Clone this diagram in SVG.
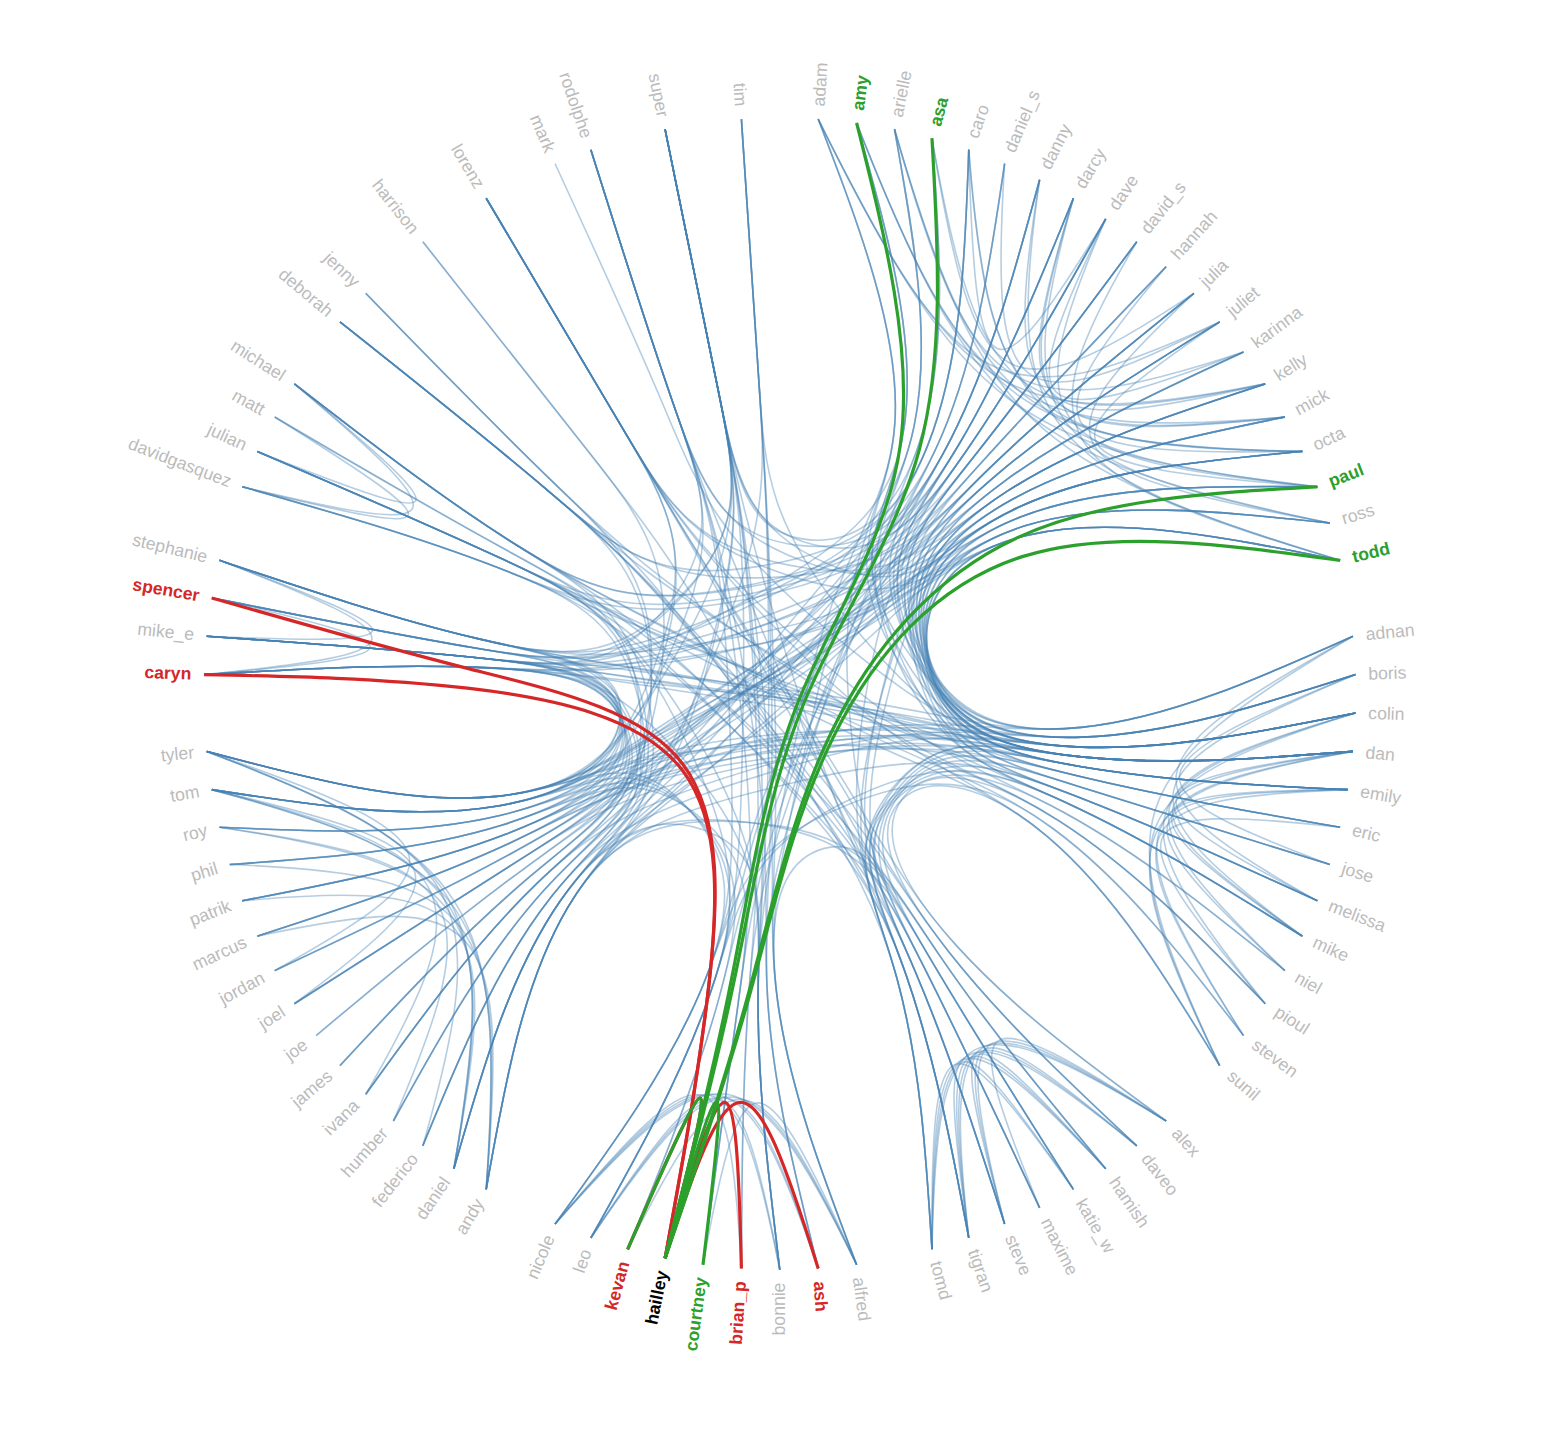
<svg xmlns="http://www.w3.org/2000/svg" width="1566" height="1450" viewBox="0 0 1566 1450">
<style>
.link{fill:none;stroke:#4682b4;stroke-opacity:.4;stroke-width:1}
.src-link{fill:none;stroke:#d62728;stroke-width:2}
.tgt-link{fill:none;stroke:#2ca02c;stroke-width:2}
.node{font-family:"Liberation Sans",Arial,Helvetica,sans-serif;font-size:11px;fill:#bbb}
.e{text-anchor:end}
.src{fill:#2ca02c;font-weight:700}
.tgt{fill:#d62728;font-weight:700}
.hov{fill:#000;font-weight:700}
</style>
<rect width="1566" height="1450" fill="#fff"/>
<g transform="translate(779.8,693.8) scale(1.6)">
<g id="links">
<path class="link" d="M24,-359.2C114.5,-176.4 149.1,-150.8 336,-129.4"/>
<path class="link" d="M24,-359.2C112.3,-180.7 143.3,-162.2 303.4,-193.7"/>
<path class="link" d="M48,-356.8C118.1,-177.4 149.1,-154.6 326.6,-151.5"/>
<path class="link" d="M48,-356.8C119.2,-174.4 152.1,-146.7 343.8,-106.7"/>
<path class="link" d="M48,-356.8C117.3,-178.8 147.1,-158.5 315.7,-173"/>
<path class="link" d="M71.7,-352.8C123.8,-172.2 154.9,-142.2 350.2,-83.4"/>
<path class="link" d="M71.7,-352.8C119.8,-180.8 144.1,-165.4 289.8,-213.6"/>
<path class="link" d="M95.1,-347.2C124.9,-178.5 148,-161.4 303.4,-193.7"/>
<path class="link" d="M95.1,-347.2C122,-182.3 140.1,-171.5 258.8,-250.3"/>
<path class="link" d="M118.1,-340.1C130.6,-174.5 153.8,-153.5 326.6,-151.5"/>
<path class="link" d="M118.1,-340.1C131.2,-173 155.4,-149.6 336,-129.4"/>
<path class="link" d="M162.4,-321.3C140,-166.6 160.9,-140.1 350.2,-83.4"/>
<path class="link" d="M183.5,-309.7C143.3,-166.1 161.1,-143.5 343.8,-106.7"/>
<path class="link" d="M183.5,-309.7C141.4,-170.5 156.1,-155.3 315.7,-173"/>
<path class="link" d="M203.7,-296.8C146.4,-165.3 161.1,-146.7 336,-129.4"/>
<path class="link" d="M203.7,-296.8C143.3,-170.9 152.9,-161.7 289.8,-213.6"/>
<path class="link" d="M223.1,-282.5C150.8,-159.7 165,-137.5 350.2,-83.4"/>
<path class="link" d="M241.5,-267C152.5,-161.5 162,-148.6 326.6,-151.5"/>
<path class="link" d="M258.8,-250.3C156.7,-155.5 166.2,-139.6 343.8,-106.7"/>
<path class="link" d="M274.9,-232.4C159.1,-153.8 165.8,-142.4 336,-129.4"/>
<path class="link" d="M24,-359.2C110.4,-183.3 138.3,-169.1 274.9,-232.4"/>
<path class="link" d="M71.7,-352.8C122.3,-176.7 150.7,-154.3 326.6,-151.5"/>
<path class="link" d="M183.5,-309.7C140.6,-171.9 153.9,-158.9 303.4,-193.7"/>
<path class="link" d="M162.4,-321.3C137.7,-172.5 154.7,-156.1 315.7,-173"/>
<path class="link" d="M118.1,-340.1C122.4,-184.2 131.9,-179.4 203.7,-296.8"/>
<path class="link" d="M140.5,-331.4C131.1,-178.3 146.1,-167.3 274.9,-232.4"/>
<path class="link" d="M358.2,-36C211.9,49.4 202.7,79.2 274.9,232.4"/>
<path class="link" d="M359.8,-12C215.7,48.3 212,66.4 326.6,151.5"/>
<path class="link" d="M359.8,12C214.9,53.9 210,71.9 315.7,173"/>
<path class="link" d="M359.8,12C214.1,55.3 207.8,75.5 303.4,193.7"/>
<path class="link" d="M358.2,36C212.9,60.9 205.3,80.7 289.8,213.6"/>
<path class="link" d="M358.2,36C211.9,62.2 202.7,84 274.9,232.4"/>
<path class="link" d="M358.2,36C216,55.3 213.5,65.7 336,129.4"/>
<path class="link" d="M355,59.9C214.8,61 211.7,71.2 326.6,151.5"/>
<path class="link" d="M355,59.9C214,62.4 209.7,75.1 315.7,173"/>
<path class="link" d="M359.8,-12C216.8,45.3 215,58.5 343.8,106.7"/>
<path class="link" d="M358.2,-36C216,42.5 213.5,60.9 336,129.4"/>
<path class="link" d="M359.8,12C212.2,57.9 202.8,82.4 274.9,232.4"/>
<path class="link" d="M350.2,83.4C212.4,68 207.1,80.3 303.4,193.7"/>
<path class="link" d="M358.2,36C215.4,56.8 211.9,69.6 326.6,151.5"/>
<path class="link" d="M355,59.9C212.3,65.1 205.1,82.3 289.8,213.6"/>
<path class="link" d="M95.1,347.2C98.3,198.8 114.5,189.9 241.5,267"/>
<path class="link" d="M95.1,347.2C97.1,199.8 111.3,192.6 223.1,282.5"/>
<path class="link" d="M95.1,347.2C95.8,200.8 107.8,195.2 203.7,296.8"/>
<path class="link" d="M118.1,340.1C102.4,197.6 116.1,189.5 241.5,267"/>
<path class="link" d="M118.1,340.1C98.5,200.4 105.8,197.1 183.5,309.7"/>
<path class="link" d="M118.1,340.1C101.2,198.6 112.9,192.2 223.1,282.5"/>
<path class="link" d="M140.5,331.4C106.4,196 117.6,188.9 241.5,267"/>
<path class="link" d="M140.5,331.4C103.9,198 110.9,194.2 203.7,296.8"/>
<path class="link" d="M140.5,331.4C105.2,197 114.4,191.6 223.1,282.5"/>
<path class="link" d="M162.4,321.3C110.3,194.2 119,188.2 241.5,267"/>
<path class="link" d="M95.1,347.2C94.4,201.6 104.2,197.5 183.5,309.7"/>
<path class="link" d="M118.1,340.1C99.9,199.6 109.4,194.8 203.7,296.8"/>
<path class="link" d="M-140.5,331.4C-43.1,217.7 -27.5,220.9 0,360"/>
<path class="link" d="M-140.5,331.4C-39.9,217.5 -19,220.3 48,356.8"/>
<path class="link" d="M-118.1,340.1C-37.5,219.2 -21.7,221.4 24,359.2"/>
<path class="link" d="M-118.1,340.1C-35.9,219.1 -17.5,220.9 48,356.8"/>
<path class="link" d="M-95.1,347.2C-31.8,220.3 -15.9,221.3 48,356.8"/>
<path class="link" d="M-48,356.8C-23.4,222 -12.8,222 48,356.8"/>
<path class="link" d="M0,360C-26,221.5 -39.1,219.3 -118.1,340.1"/>
<path class="link" d="M-24,359.2C-31.8,220.8 -44.7,217.6 -140.5,331.4"/>
<path class="link" d="M24,359.2C-23.2,220.8 -41.5,217.6 -140.5,331.4"/>
<path class="link" d="M-358.2,36C-190.6,100.1 -171.2,130.6 -183.5,309.7"/>
<path class="link" d="M-358.2,36C-192,99.3 -174.8,128.3 -203.7,296.8"/>
<path class="link" d="M-355,59.9C-190,104.3 -171,132.2 -183.5,309.7"/>
<path class="link" d="M-355,59.9C-191.4,103.5 -174.6,129.9 -203.7,296.8"/>
<path class="link" d="M-350.2,83.4C-190.6,107.7 -174.2,131.5 -203.7,296.8"/>
<path class="link" d="M-358.2,36C-193.3,98.3 -178.3,125.7 -223.1,282.5"/>
<path class="link" d="M-355,59.9C-195.1,100.4 -184.4,121.6 -258.8,250.3"/>
<path class="link" d="M-343.8,106.7C-188,112.7 -170.2,135.3 -183.5,309.7"/>
<path class="link" d="M-336,129.4C-188,115.9 -173.3,134.5 -203.7,296.8"/>
<path class="link" d="M-326.6,151.5C-185,120.6 -169.1,138.3 -183.5,309.7"/>
<path class="link" d="M-350.2,83.4C-193.1,105.7 -180.9,126.2 -241.5,267"/>
<path class="link" d="M-355,59.9C-198,96.6 -192.3,111.5 -303.4,193.7"/>
<path class="link" d="M-358.2,36C-199.4,91 -194.7,106.3 -315.7,173"/>
<path class="link" d="M-359.8,-12C-222.1,-25.8 -221.1,-33.7 -350.2,-83.4"/>
<path class="link" d="M-358.2,-36C-221.8,-30.1 -221,-35.3 -350.2,-83.4"/>
<path class="link" d="M-359.8,-12C-222.5,-24.2 -221.9,-29.5 -355,-59.9"/>
<path class="link" d="M-336,-129.4C-201.3,-97.2 -197.7,-104.3 -303.4,-193.7"/>
<path class="link" d="M-326.6,-151.5C-199.7,-101.1 -197.1,-105.8 -303.4,-193.7"/>
<path class="link" d="M-315.7,-173C-199.9,-100.7 -202.1,-95.8 -336,-129.4"/>
<path class="link" d="M350.2,-83.4C279.5,-97.7 208.8,-112 154.8,-99.1S85.4,-51.4 93.9,-20.9S133.2,26.6 188.4,21S300.9,-10.3 358.2,-36"/>
<path class="link" d="M350.2,-83.4C279.5,-97.7 208.8,-112 154.8,-99.1S85.4,-51.4 94.1,-17.3S133.4,31.4 188.8,33.3S302,23.6 359.8,12"/>
<path class="link" d="M350.2,-83.4C279.5,-97.7 208.8,-112 154.8,-99.1S85.4,-51.4 93.9,-15.5S133.2,33.8 188.4,39.4S300.9,40.5 358.2,36"/>
<path class="link" d="M343.8,-106.7C275,-114 206.2,-121.5 153.2,-105S84.5,-54.9 93.6,-20.8S133.4,29 188.8,27.1S302,6.6 359.8,-12"/>
<path class="link" d="M343.8,-106.7C275,-114 206.2,-121.5 153.2,-105S84.5,-54.9 93.5,-17.2S133.2,33.8 188.4,39.4S300.9,40.5 358.2,36"/>
<path class="link" d="M336,-129.4C269.5,-130 203,-130.7 151.2,-110.8S83.3,-58.3 93,-20.7S133.4,31.4 188.8,33.3S302,23.6 359.8,12"/>
<path class="link" d="M336,-129.4C269.5,-130 203,-130.7 151.2,-110.8S83.3,-58.3 92.6,-17.1S132.9,36.2 187.6,45.4S298.7,57.3 355,59.9"/>
<path class="link" d="M326.6,-151.5C262.9,-145.6 199.1,-139.8 148.8,-116.4S81.9,-61.6 92.2,-26S133.2,26.6 188.4,21S300.9,-10.3 358.2,-36"/>
<path class="link" d="M326.6,-151.5C262.9,-145.6 199.1,-139.8 148.8,-116.4S81.9,-61.6 92.2,-20.6S133.2,33.8 188.4,39.4S300.9,40.5 358.2,36"/>
<path class="link" d="M315.7,-173C255.2,-160.7 194.7,-148.5 146,-121.9S80.3,-64.9 91.5,-25.8S133.4,29 188.8,27.1S302,6.6 359.8,-12"/>
<path class="link" d="M315.7,-173C255.2,-160.7 194.7,-148.5 146,-121.9S80.3,-64.9 90.8,-18.7S132.4,38.5 186.4,51.4S295.3,73.9 350.2,83.4"/>
<path class="link" d="M303.4,-193.7C246.6,-175.3 189.7,-157 142.9,-127.1S78.4,-68 90.6,-25.6S133.4,31.4 188.8,33.3S302,23.6 359.8,12"/>
<path class="link" d="M303.4,-193.7C246.6,-175.3 189.7,-157 142.9,-127.1S78.4,-68 90.4,-23.8S133.2,33.8 188.4,39.4S300.9,40.5 358.2,36"/>
<path class="link" d="M289.8,-213.6C237,-189.3 184.2,-165.1 139.5,-132.2S76.4,-70.9 89.2,-23.4S132.9,36.2 187.6,45.4S298.7,57.3 355,59.9"/>
<path class="link" d="M289.8,-213.6C237,-189.3 184.2,-165.1 139.5,-132.2S76.4,-70.9 88.4,-19.9S131.8,40.9 184.8,57.3S290.8,90.2 343.8,106.7"/>
<path class="link" d="M274.9,-232.4C226.5,-202.6 178,-172.8 135.7,-137S74.1,-73.8 88.3,-26.7S133.2,33.8 188.4,39.4S300.9,40.5 358.2,36"/>
<path class="link" d="M274.9,-232.4C226.5,-202.6 178,-172.8 135.7,-137S74.1,-73.8 86.6,-19.7S131,43.1 182.8,63.1S285.3,106.2 336,129.4"/>
<path class="link" d="M258.8,-250.3C215.1,-215.1 171.5,-180.1 131.6,-141.5S71.7,-76.4 87.2,-31.6S133.4,29 188.8,27.1S302,6.6 359.8,-12"/>
<path class="link" d="M258.8,-250.3C215.1,-215.1 171.5,-180.1 131.6,-141.5S71.7,-76.4 84.7,-19.3S130.1,45.4 180.4,68.7S278.7,121.8 326.6,151.5"/>
<path class="link" d="M241.5,-267C202.9,-226.9 164.4,-186.9 127.2,-145.8S69.1,-78.9 85.9,-31S133.4,31.4 188.8,33.3S302,23.6 359.8,12"/>
<path class="link" d="M223.1,-282.5C190,-237.8 156.9,-193.3 122.5,-149.7S66.4,-81.3 84.4,-30.4S133.2,33.8 188.4,39.4S300.9,40.5 358.2,36"/>
<path class="link" d="M223.1,-282.5C190,-237.8 156.9,-193.3 122.5,-149.7S66.4,-81.3 84.2,-28.6S132.9,36.2 187.6,45.4S298.7,57.3 355,59.9"/>
<path class="link" d="M203.7,-296.8C176.4,-247.9 149,-199.1 117.6,-153.3S63.5,-83.4 83,-36.9S133.2,26.6 188.4,21S300.9,-10.3 358.2,-36"/>
<path class="link" d="M183.5,-309.7C162.1,-257 140.7,-204.4 112.4,-156.6S60.4,-85.4 80.8,-28.9S132.4,38.5 186.4,51.4S295.3,73.9 350.2,83.4"/>
<path class="link" d="M183.5,-309.7C162.1,-257 140.7,-204.4 112.4,-156.6S60.4,-85.4 81.6,-34.3S133.4,31.4 188.8,33.3S302,23.6 359.8,12"/>
<path class="link" d="M162.4,-321.3C147.2,-265.1 132.1,-209.1 107.1,-159.6S57.3,-87.1 79.9,-33.3S133.2,33.8 188.4,39.4S300.9,40.5 358.2,36"/>
<path class="link" d="M48,-356.8C66.7,-290.1 85.4,-223.6 78,-168.6S40.1,-92.4 71.4,-39.6S133.4,29 188.8,27.1S302,6.6 359.8,-12"/>
<path class="link" d="M24,-359.2C49.8,-291.8 75.6,-224.6 71.9,-169.2S36.5,-92.8 68.4,-30.9S131.8,40.9 184.8,57.3S290.8,90.2 343.8,106.7"/>
<path class="link" d="M71.7,-352.8C83.4,-287.3 95.1,-222 84,-167.6S43.7,-91.8 70.7,-27S130.1,45.4 180.4,68.7S278.7,121.8 326.6,151.5"/>
<path class="link" d="M95.1,-347.2C99.9,-283.4 104.6,-219.7 90,-166.2S47.2,-91 73.2,-28.3S131,43.1 182.8,63.1S285.3,106.2 336,129.4"/>
<path class="link" d="M140.5,-331.4C131.9,-272.3 123.2,-213.2 101.5,-162.1S54,-88.6 78.4,-35.9S133.4,31.4 188.8,33.3S302,23.6 359.8,12"/>
<path class="link" d="M48,-356.8C66.7,-290.1 85.4,-223.6 78,-168.6S40.1,-92.4 71,-34.2S132.9,36.2 187.6,45.4S298.7,57.3 355,59.9"/>
<path class="link" d="M24,-359.2C49.8,-291.8 75.6,-224.6 71.9,-169.2S36.5,-92.8 14.9,5.9S-13.6,137.1 -13.6,192.6S-6.8,304 0,360"/>
<path class="link" d="M71.7,-352.8C83.4,-287.3 95.1,-222 84,-167.6S43.7,-91.8 22.1,6.1S-8.8,136.8 -1.4,191.8S27,301.7 48,356.8"/>
<path class="link" d="M118.1,-340.1C116,-278.4 114,-216.8 95.8,-164.3S50.6,-89.9 13.1,5.8S-25.4,135.1 -43.6,187.5S-89.9,290 -118.1,340.1"/>
<path class="link" d="M140.5,-331.4C131.9,-272.3 123.2,-213.2 101.5,-162.1S54,-88.6 13.1,5.8S-27.7,134.2 -49.3,185.3S-105.8,283.9 -140.5,331.4"/>
<path class="link" d="M162.4,-321.3C147.2,-265.1 132.1,-209.1 107.1,-159.6S57.3,-87.1 27.1,8.7S-11.2,137 -7.5,192.4S10.1,303.4 24,359.2"/>
<path class="link" d="M183.5,-309.7C162.1,-257 140.7,-204.4 112.4,-156.6S60.4,-85.4 23.2,9.3S-18.4,136.8 -25.8,191.8S-40.6,301.7 -48,356.8"/>
<path class="link" d="M203.7,-296.8C176.4,-247.9 149,-199.1 117.6,-153.3S63.5,-83.4 26.6,10.5S-16,137 -19.7,192.4S-23.7,303.4 -24,359.2"/>
<path class="link" d="M223.1,-282.5C190,-237.8 156.9,-193.3 122.5,-149.7S66.4,-81.3 22.7,10.7S-23.1,135.8 -37.8,189.4S-73.8,295 -95.1,347.2"/>
<path class="link" d="M350.2,-83.4C279.5,-97.7 208.8,-112 154.8,-99.1S85.4,-51.4 -5.7,-9.3S-121.8,58.5 -177,64.1S-295.2,52.8 -358.2,36"/>
<path class="link" d="M343.8,-106.7C275,-114 206.2,-121.5 153.2,-105S84.5,-54.9 -5.9,-9.3S-121.5,60.9 -176.2,70.1S-293,69.6 -355,59.9"/>
<path class="link" d="M326.6,-151.5C262.9,-145.6 199.1,-139.8 148.8,-116.4S81.9,-61.6 -6.8,-10.9S-121,63.2 -175,76.1S-289.6,86.2 -350.2,83.4"/>
<path class="link" d="M315.7,-173C255.2,-160.7 194.7,-148.5 146,-121.9S80.3,-64.9 -7.2,-10.8S-120.4,65.6 -173.4,82S-285.1,102.5 -343.8,106.7"/>
<path class="link" d="M303.4,-193.7C246.6,-175.3 189.7,-157 142.9,-127.1S78.4,-68 -7.5,-10.6S-119.6,67.8 -171.4,87.8S-279.6,118.5 -336,129.4"/>
<path class="link" d="M289.8,-213.6C237,-189.3 184.2,-165.1 139.5,-132.2S76.4,-70.9 -7.8,-10.4S-118.7,70.1 -169,93.4S-273,134.1 -326.6,151.5"/>
<path class="link" d="M274.9,-232.4C226.5,-202.6 178,-172.8 135.7,-137S74.1,-73.8 -11.3,-20.5S-121.8,58.5 -177,64.1S-295.2,52.8 -358.2,36"/>
<path class="link" d="M258.8,-250.3C215.1,-215.1 171.5,-180.1 131.6,-141.5S71.7,-76.4 -12.3,-20S-121.5,60.9 -176.2,70.1S-293,69.6 -355,59.9"/>
<path class="link" d="M241.5,-267C202.9,-226.9 164.4,-186.9 127.2,-145.8S69.1,-78.9 -2.3,-3.5S-106.4,84.6 -137.8,130.3S-186.5,236.4 -203.7,296.8"/>
<path class="link" d="M203.7,-296.8C176.4,-247.9 149,-199.1 117.6,-153.3S63.5,-83.4 -3.5,-4.8S-104.3,85.9 -132.6,133.6S-172.2,245.5 -183.5,309.7"/>
<path class="link" d="M183.5,-309.7C162.1,-257 140.7,-204.4 112.4,-156.6S60.4,-85.4 -15,-16S-117.6,72.2 -166.2,98.9S-265.3,149.2 -315.7,173"/>
<path class="link" d="M162.4,-321.3C147.2,-265.1 132.1,-209.1 107.1,-159.6S57.3,-87.1 -15.6,-15.3S-116.3,74.3 -163.1,104.1S-256.7,163.8 -303.4,193.7"/>
<path class="link" d="M336,-129.4C269.5,-130 203,-130.7 151.2,-110.8S83.3,-58.3 -2.6,-0.9S-116.3,74.3 -163.1,104.1S-256.7,163.8 -303.4,193.7"/>
<path class="link" d="M274.9,-232.4C226.5,-202.6 178,-172.8 135.7,-137S74.1,-73.8 -6.2,-7.2S-115,76.3 -159.7,109.2S-247.1,177.8 -289.8,213.6"/>
<path class="link" d="M326.6,-151.5C262.9,-145.6 199.1,-139.8 148.8,-116.4S81.9,-61.6 -4.3,-4.1S-117.6,72.2 -166.2,98.9S-265.3,149.2 -315.7,173"/>
<path class="link" d="M336,-129.4C269.5,-130 203,-130.7 151.2,-110.8S83.3,-58.3 -9.9,-38.8S-136.1,-21.9 -190.1,-34.8S-297.1,-65.6 -350.2,-83.4"/>
<path class="link" d="M350.2,-83.4C279.5,-97.7 208.8,-112 154.8,-99.1S85.4,-51.4 -9.4,-31.8S-136.9,-17.2 -192.1,-22.8S-302.7,-32.2 -358.2,-36"/>
<path class="link" d="M343.8,-106.7C275,-114 206.2,-121.5 153.2,-105S84.5,-54.9 -10,-31.8S-137.1,-14.8 -192.5,-16.7S-303.8,-15.3 -359.8,-12"/>
<path class="link" d="M48,-356.8C66.7,-290.1 85.4,-223.6 78,-168.6S40.1,-92.4 -32.1,-52.3S-136.9,-17.2 -192.1,-22.8S-302.7,-32.2 -358.2,-36"/>
<path class="link" d="M118.1,-340.1C116,-278.4 114,-216.8 95.8,-164.3S50.6,-89.9 -26.2,-54.6S-136.1,-21.9 -190.1,-34.8S-297.1,-65.6 -350.2,-83.4"/>
<path class="link" d="M140.5,-331.4C131.9,-272.3 123.2,-213.2 101.5,-162.1S54,-88.6 -24.9,-52.2S-136.6,-19.6 -191.3,-28.8S-300.5,-49 -355,-59.9"/>
<path class="link" d="M274.9,-232.4C226.5,-202.6 178,-172.8 135.7,-137S74.1,-73.8 -15.2,-41.2S-137.1,-14.8 -192.5,-16.7S-303.8,-15.3 -359.8,-12"/>
<path class="link" d="M289.8,-213.6C237,-189.3 184.2,-165.1 139.5,-132.2S76.4,-70.9 -13.9,-41.6S-136.9,-17.2 -192.1,-22.8S-302.7,-32.2 -358.2,-36"/>
<path class="link" d="M326.6,-151.5C262.9,-145.6 199.1,-139.8 148.8,-116.4S81.9,-61.6 63.8,16.4S63.1,122.6 84.7,173.7S123.5,278.1 140.5,331.4"/>
<path class="link" d="M315.7,-173C255.2,-160.7 194.7,-148.5 146,-121.9S80.3,-64.9 59.6,16S58.5,124.2 73.2,177.8S91.5,289.2 95.1,347.2"/>
<path class="link" d="M303.4,-193.7C246.6,-175.3 189.7,-157 142.9,-127.1S78.4,-68 60.3,13.9S60.8,123.5 79,175.9S107.6,284.2 118.1,340.1"/>
<path class="link" d="M24,-359.2C49.8,-291.8 75.6,-224.6 71.9,-169.2S36.5,-92.8 42.7,0.1S65.2,121.6 90.3,171.2S138.8,270.9 162.4,321.3"/>
<path class="link" d="M223.1,-282.5C190,-237.8 156.9,-193.3 122.5,-149.7S66.4,-81.3 52.6,7.8S58.5,124.2 73.2,177.8S91.5,289.2 95.1,347.2"/>
<path class="link" d="M223.1,-282.5C190,-237.8 156.9,-193.3 122.5,-149.7S66.4,-81.3 -14.1,-63.5S-123.7,-61.2 -174,-84.5S-275.5,-129.7 -326.6,-151.5"/>
<path class="link" d="M183.5,-309.7C162.1,-257 140.7,-204.4 112.4,-156.6S60.4,-85.4 -15.3,-68.8S-121.3,-65.4 -168.1,-95.2S-259.2,-159.4 -303.4,-193.7"/>
<path class="link" d="M241.5,-267C202.9,-226.9 164.4,-186.9 127.2,-145.8S69.1,-78.9 -13.4,-60.7S-124.6,-58.9 -176.4,-78.9S-282.1,-114.1 -336,-129.4"/>
<path class="link" d="M118.1,-340.1C116,-278.4 114,-216.8 95.8,-164.3S50.6,-89.9 -14.2,-79.5S-103.1,-91.6 -145.5,-127.5S-231.4,-197.9 -274.9,-232.4"/>
<path class="link" d="M258.8,-250.3C215.1,-215.1 171.5,-180.1 131.6,-141.5S71.7,-76.4 -3.7,-72.8S-103.1,-91.6 -145.5,-127.5S-231.4,-197.9 -274.9,-232.4"/>
<path class="link" d="M336,-129.4C269.5,-130 203,-130.7 151.2,-110.8S83.3,-58.3 31.2,-80.6S-27.5,-135.3 -38.5,-189.7S-60.7,-298.4 -71.7,-352.8"/>
<path class="link" d="M203.7,-296.8C176.4,-247.9 149,-199.1 117.6,-153.3S63.5,-83.4 21.3,-93.2S-27.5,-135.3 -38.5,-189.7S-60.7,-298.4 -71.7,-352.8"/>
<path class="link" d="M95.1,-347.2C99.9,-283.4 104.6,-219.7 90,-166.2S47.2,-91 13.1,-97S-27.5,-135.3 -38.5,-189.7S-60.7,-298.4 -71.7,-352.8"/>
<path class="link" d="M326.6,-151.5C262.9,-145.6 199.1,-139.8 148.8,-116.4S81.9,-61.6 23,-80.1S-48.5,-129.2 -66.7,-181.6S-101.4,-287.1 -118.1,-340.1"/>
<path class="link" d="M162.4,-321.3C147.2,-265.1 132.1,-209.1 107.1,-159.6S57.3,-87.1 10.7,-92.9S-48.5,-129.2 -66.7,-181.6S-101.4,-287.1 -118.1,-340.1"/>
<path class="link" d="M350.2,-83.4C279.5,-97.7 208.8,-112 154.8,-99.1S85.4,-51.4 16,-70.9S-70.3,-118.8 -98.6,-166.5S-155.2,-262 -183.5,-309.7"/>
<path class="link" d="M303.4,-193.7C246.6,-175.3 189.7,-157 142.9,-127.1S78.4,-68 12.5,-79.2S-70.3,-118.8 -98.6,-166.5S-155.2,-262 -183.5,-309.7"/>
<path class="link" d="M358.2,36C300.9,40.5 243.7,44.9 188.4,39.4S102.4,20.5 70.6,58.7S58.5,124.2 73.2,177.8S91.5,289.2 95.1,347.2"/>
<path class="link" d="M358.2,36C300.9,40.5 243.7,44.9 188.4,39.4S102.4,20.5 72.3,58.1S60.8,123.5 79,175.9S107.6,284.2 118.1,340.1"/>
<path class="link" d="M355,59.9C298.7,57.3 242.4,54.6 187.6,45.4S101.9,24.1 73.8,59.3S63.1,122.6 84.7,173.7S123.5,278.1 140.5,331.4"/>
<path class="link" d="M350.2,83.4C295.3,73.9 240.4,64.3 186.4,51.4S101.2,27.6 75.1,60.3S65.2,121.6 90.3,171.2S138.8,270.9 162.4,321.3"/>
<path class="link" d="M343.8,106.7C290.8,90.2 237.8,73.8 184.8,57.3S100.3,31.1 76.2,61.2S67.3,120.5 95.6,168.2S153.7,262.8 183.5,309.7"/>
<path class="link" d="M336,129.4C285.3,106.2 234.6,83 182.8,63.1S99.1,34.5 69,65.7S58.5,124.2 73.2,177.8S91.5,289.2 95.1,347.2"/>
<path class="link" d="M326.6,151.5C278.7,121.8 230.7,92.1 180.4,68.7S97.7,37.8 70,66.8S60.8,123.5 79,175.9S107.6,284.2 118.1,340.1"/>
<path class="link" d="M315.7,173C271,136.9 226.3,100.8 177.6,74.2S96.1,41.1 70.9,67.8S63.1,122.6 84.7,173.7S123.5,278.1 140.5,331.4"/>
<path class="link" d="M303.4,193.7C262.4,151.5 221.3,109.3 174.5,79.4S94.2,44.2 77.5,64.5S73.1,116.2 110.4,157.4S194.5,232.7 241.5,267"/>
<path class="link" d="M274.9,232.4C242.3,178.8 209.6,125.1 167.3,89.3S89.9,50 74,68.6S71.3,117.8 105.7,161.3S181.6,243.6 223.1,282.5"/>
<path class="link" d="M326.6,151.5C278.7,121.8 230.7,92.1 180.4,68.7S97.7,37.8 36.6,69.7S-25.4,135.1 -43.6,187.5S-89.9,290 -118.1,340.1"/>
<path class="link" d="M289.8,213.6C252.8,165.5 215.8,117.4 171.1,84.5S92.2,47.1 32.2,73.7S-27.7,134.2 -49.3,185.3S-105.8,283.9 -140.5,331.4"/>
<path class="link" d="M359.8,12C302,23.6 244.3,35.1 188.8,33.3S102.7,16.9 3,24.9S-121.8,58.5 -177,64.1S-295.2,52.8 -358.2,36"/>
<path class="link" d="M358.2,36C300.9,40.5 243.7,44.9 188.4,39.4S102.4,20.5 3.1,28.5S-121.5,60.9 -176.2,70.1S-293,69.6 -355,59.9"/>
<path class="link" d="M359.8,-12C302,6.6 244.3,25.3 188.8,27.1S102.7,13.3 3.6,26.6S-121,63.2 -175,76.1S-289.6,86.2 -350.2,83.4"/>
<path class="link" d="M355,59.9C298.7,57.3 242.4,54.6 187.6,45.4S101.9,24.1 4.3,35.5S-119.6,67.8 -171.4,87.8S-279.6,118.5 -336,129.4"/>
<path class="link" d="M358.2,36C300.9,40.5 243.7,44.9 188.4,39.4S102.4,20.5 3.9,32S-120.4,65.6 -173.4,82S-285.1,102.5 -343.8,106.7"/>
<path class="link" d="M350.2,83.4C295.3,73.9 240.4,64.3 186.4,51.4S101.2,27.6 4.6,38.9S-118.7,70.1 -169,93.4S-273,134.1 -326.6,151.5"/>
<path class="link" d="M343.8,106.7C290.8,90.2 237.8,73.8 184.8,57.3S100.3,31.1 1.8,32S-121.8,58.5 -177,64.1S-295.2,52.8 -358.2,36"/>
<path class="link" d="M336,129.4C285.3,106.2 234.6,83 182.8,63.1S99.1,34.5 14.3,54.2S-104.3,85.9 -132.6,133.6S-172.2,245.5 -183.5,309.7"/>
<path class="link" d="M359.8,12C302,23.6 244.3,35.1 188.8,33.3S102.7,16.9 13.1,43.4S-108.3,83.2 -142.7,126.7S-200.1,226.3 -223.1,282.5"/>
<path class="link" d="M359.8,-12C302,6.6 244.3,25.3 188.8,27.1S102.7,13.3 10.5,39.1S-111.9,79.9 -151.8,118.5S-225.2,203.6 -258.8,250.3"/>
<path class="link" d="M359.8,12C302,23.6 244.3,35.1 188.8,33.3S102.7,16.9 5.4,33.5S-118.7,70.1 -169,93.4S-273,134.1 -326.6,151.5"/>
<path class="link" d="M358.2,-36C300.9,-10.3 243.7,15.5 188.4,21S102.4,9.7 4.5,28.3S-119.6,67.8 -171.4,87.8S-279.6,118.5 -336,129.4"/>
<path class="link" d="M355,59.9C298.7,57.3 242.4,54.6 187.6,45.4S101.9,24.1 6.7,40.3S-116.3,74.3 -163.1,104.1S-256.7,163.8 -303.4,193.7"/>
<path class="link" d="M359.8,12C302,23.6 244.3,35.1 188.8,33.3S102.7,16.9 -0.8,2.4S-136.9,-17.2 -192.1,-22.8S-302.7,-32.2 -358.2,-36"/>
<path class="link" d="M358.2,36C300.9,40.5 243.7,44.9 188.4,39.4S102.4,20.5 -0.3,0.6S-136.1,-21.9 -190.1,-34.8S-297.1,-65.6 -350.2,-83.4"/>
<path class="link" d="M359.8,-12C302,6.6 244.3,25.3 188.8,27.1S102.7,13.3 -0.9,2.4S-137.1,-14.8 -192.5,-16.7S-303.8,-15.3 -359.8,-12"/>
<path class="link" d="M358.2,-36C300.9,-10.3 243.7,15.5 188.4,21S102.4,9.7 -0.7,-3.1S-136.6,-19.6 -191.3,-28.8S-300.5,-49 -355,-59.9"/>
<path class="link" d="M274.9,232.4C242.3,178.8 209.6,125.1 167.3,89.3S89.9,50 -2.3,2.2S-123.7,-61.2 -174,-84.5S-275.5,-129.7 -326.6,-151.5"/>
<path class="link" d="M303.4,193.7C262.4,151.5 221.3,109.3 174.5,79.4S94.2,44.2 1.6,-4S-121.3,-65.4 -168.1,-95.2S-259.2,-159.4 -303.4,-193.7"/>
<path class="link" d="M274.9,232.4C242.3,178.8 209.6,125.1 167.3,89.3S89.9,50 18.2,-20.2S-70.3,-118.8 -98.6,-166.5S-155.2,-262 -183.5,-309.7"/>
<path class="link" d="M315.7,173C271,136.9 226.3,100.8 177.6,74.2S96.1,41.1 21.3,-24.7S-70.3,-118.8 -98.6,-166.5S-155.2,-262 -183.5,-309.7"/>
<path class="link" d="M358.2,36C300.9,40.5 243.7,44.9 188.4,39.4S102.4,20.5 31.5,-38.4S-50.8,-128.3 -72.4,-179.4S-117.3,-281 -140.5,-331.4"/>
<path class="link" d="M355,59.9C298.7,57.3 242.4,54.6 187.6,45.4S101.9,24.1 47.5,-40.4S-9.2,-137.7 -12.9,-192.6S-20.3,-303.8 -24,-359.2"/>
<path class="link" d="M162.4,321.3C138.8,270.9 115.3,220.7 90.3,171.2S48.9,92.9 -21.1,20.4S-121.3,-65.4 -168.1,-95.2S-259.2,-159.4 -303.4,-193.7"/>
<path class="link" d="M118.1,340.1C107.6,284.2 97.2,228.4 79,175.9S42.2,95.7 -26.2,25S-123.7,-61.2 -174,-84.5S-275.5,-129.7 -326.6,-151.5"/>
<path class="link" d="M140.5,331.4C123.5,278.1 106.4,224.8 84.7,173.7S45.6,94.4 -25.2,26S-124.6,-58.9 -176.4,-78.9S-282.1,-114.1 -336,-129.4"/>
<path class="link" d="M183.5,309.7C153.7,262.8 123.9,216 95.6,168.2S52,91.2 -13.5,11.1S-103.1,-91.6 -145.5,-127.5S-231.4,-197.9 -274.9,-232.4"/>
<path class="link" d="M118.1,340.1C107.6,284.2 97.2,228.4 79,175.9S42.2,95.7 -17.2,12S-101.5,-93.4 -141.4,-132S-220,-210.4 -258.8,-250.3"/>
<path class="link" d="M162.4,321.3C138.8,270.9 115.3,220.7 90.3,171.2S48.9,92.9 -15.1,11.9S-103.1,-91.6 -145.5,-127.5S-231.4,-197.9 -274.9,-232.4"/>
<path class="link" d="M203.7,296.8C168,253.7 132.2,210.7 100.8,164.9S55.1,89.2 -7.7,81.6S-104.3,85.9 -132.6,133.6S-172.2,245.5 -183.5,309.7"/>
<path class="link" d="M183.5,309.7C153.7,262.8 123.9,216 95.6,168.2S52,91.2 -10.8,81.6S-106.4,84.6 -137.8,130.3S-186.5,236.4 -203.7,296.8"/>
<path class="link" d="M241.5,267C194.5,232.7 147.6,198.5 110.4,157.4S60.7,84.7 3.6,-2.9S-70.3,-118.8 -98.6,-166.5S-155.2,-262 -183.5,-309.7"/>
<path class="link" d="M223.1,282.5C181.6,243.6 140.1,204.9 105.7,161.3S58,87.1 2.3,-1.7S-70.3,-118.8 -98.6,-166.5S-155.2,-262 -183.5,-309.7"/>
<path class="link" d="M203.7,296.8C168,253.7 132.2,210.7 100.8,164.9S55.1,89.2 27.8,96.6S-8.8,136.8 -1.4,191.8S27,301.7 48,356.8"/>
<path class="link" d="M95.1,347.2C91.5,289.2 87.8,231.3 73.2,177.8S38.8,96.8 -13.2,7.2S-85.5,-108.3 -119.9,-151.8S-188.7,-238.9 -223.1,-282.5"/>
<path class="link" d="M0,360C-6.8,304 -13.6,248.1 -13.6,192.6S-6.8,104.5 -55.5,46.2S-136.9,-17.2 -192.1,-22.8S-302.7,-32.2 -358.2,-36"/>
<path class="link" d="M-140.5,331.4C-105.8,283.9 -71,236.4 -49.3,185.3S-27.9,100.2 -62.3,66.5S-121.8,58.5 -177,64.1S-295.2,52.8 -358.2,36"/>
<path class="link" d="M-118.1,340.1C-89.9,290 -61.8,240 -43.6,187.5S-24.5,101.5 -60.4,69S-121.5,60.9 -176.2,70.1S-293,69.6 -355,59.9"/>
<path class="link" d="M-95.1,347.2C-73.8,295 -52.4,242.9 -37.8,189.4S-21.1,102.6 -58.3,71.3S-121,63.2 -175,76.1S-289.6,86.2 -350.2,83.4"/>
<path class="link" d="M-48,356.8C-40.6,301.7 -33.2,246.8 -25.8,191.8S-14,104 -54.3,73.7S-120.4,65.6 -173.4,82S-285.1,102.5 -343.8,106.7"/>
<path class="link" d="M0,360C-6.8,304 -13.6,248.1 -13.6,192.6S-6.8,104.5 -40.2,88.2S-106.4,84.6 -137.8,130.3S-186.5,236.4 -203.7,296.8"/>
<path class="link" d="M48,356.8C27,301.7 6,246.8 -1.4,191.8S0.4,104 -10.3,0.6S-27.5,-135.3 -38.5,-189.7S-60.7,-298.4 -71.7,-352.8"/>
<path class="link" d="M0,360C-6.8,304 -13.6,248.1 -13.6,192.6S-6.8,104.5 -13.9,0.8S-27.5,-135.3 -38.5,-189.7S-60.7,-298.4 -71.7,-352.8"/>
<path class="link" d="M-24,359.2C-23.7,303.4 -23.4,247.8 -19.7,192.4S-10.4,104.4 -15.7,0.8S-27.5,-135.3 -38.5,-189.7S-60.7,-298.4 -71.7,-352.8"/>
<path class="link" d="M24,359.2C10.1,303.4 -3.8,247.8 -7.5,192.4S-3.2,104.4 -19.6,2.9S-48.5,-129.2 -66.7,-181.6S-101.4,-287.1 -118.1,-340.1"/>
<path class="link" d="M-48,356.8C-40.6,301.7 -33.2,246.8 -25.8,191.8S-14,104 -25,2.7S-48.5,-129.2 -66.7,-181.6S-101.4,-287.1 -118.1,-340.1"/>
<path class="link" d="M48,356.8C27,301.7 6,246.8 -1.4,191.8S0.4,104 -3.3,-0.4S-9.2,-137.7 -12.9,-192.6S-20.3,-303.8 -24,-359.2"/>
<path class="link" d="M0,360C-6.8,304 -13.6,248.1 -13.6,192.6S-6.8,104.5 -6.9,-0.2S-9.2,-137.7 -12.9,-192.6S-20.3,-303.8 -24,-359.2"/>
<path class="link" d="M-118.1,340.1C-89.9,290 -61.8,240 -43.6,187.5S-24.5,101.5 -59.5,27.9S-123.7,-61.2 -174,-84.5S-275.5,-129.7 -326.6,-151.5"/>
<path class="link" d="M-355,59.9C-293,69.6 -231,79.3 -176.2,70.1S-96.2,36.4 -100.4,13.9S-137.1,-14.8 -192.5,-16.7S-303.8,-15.3 -359.8,-12"/>
<path class="link" d="M-336,129.4C-279.6,118.5 -223.2,107.7 -171.4,87.8S-93.4,46.8 -99,19.1S-137.1,-14.8 -192.5,-16.7S-303.8,-15.3 -359.8,-12"/>
<path class="link" d="M-358.2,36C-295.2,52.8 -232.3,69.6 -177,64.1S-96.7,32.8 -100.5,10.3S-136.9,-17.2 -192.1,-22.8S-302.7,-32.2 -358.2,-36"/>
<path class="link" d="M-350.2,83.4C-289.6,86.2 -229,89 -175,76.1S-95.5,39.9 -99.9,13.9S-136.9,-17.2 -192.1,-22.8S-302.7,-32.2 -358.2,-36"/>
<path class="link" d="M-326.6,151.5C-273,134.1 -219.3,116.8 -169,93.4S-92,50.1 -97.9,17.2S-136.6,-19.6 -191.3,-28.8S-300.5,-49 -355,-59.9"/>
<path class="link" d="M-358.2,36C-295.2,52.8 -232.3,69.6 -177,64.1S-96.7,32.8 -99.9,6.8S-136.1,-21.9 -190.1,-34.8S-297.1,-65.6 -350.2,-83.4"/>
<path class="link" d="M-223.1,282.5C-200.1,226.3 -177.1,170.3 -142.7,126.7S-76.5,69.8 -89.8,25.3S-136.1,-21.9 -190.1,-34.8S-297.1,-65.6 -350.2,-83.4"/>
<path class="link" d="M-315.7,173C-265.3,149.2 -214.9,125.5 -166.2,98.9S-90.4,53.4 -97.3,20.6S-136.9,-17.2 -192.1,-22.8S-302.7,-32.2 -358.2,-36"/>
<path class="link" d="M-303.4,193.7C-256.7,163.8 -209.9,134 -163.1,104.1S-88.5,56.5 -96.5,24S-137.1,-14.8 -192.5,-16.7S-303.8,-15.3 -359.8,-12"/>
<path class="link" d="M-241.5,267C-213,215.4 -184.6,163.9 -147.4,122.8S-79.2,67.4 -91.5,25.8S-136.6,-19.6 -191.3,-28.8S-300.5,-49 -355,-59.9"/>
<path class="link" d="M-289.8,213.6C-247.1,177.8 -204.4,142.1 -159.7,109.2S-86.5,59.4 -95.5,25.4S-137.1,-14.8 -192.5,-16.7S-303.8,-15.3 -359.8,-12"/>
<path class="link" d="M-274.9,232.4C-236.6,191.1 -198.2,149.8 -155.9,114S-84.2,62.3 -94.2,25.1S-136.9,-17.2 -192.1,-22.8S-302.7,-32.2 -358.2,-36"/>
<path class="link" d="M-343.8,106.7C-285.1,102.5 -226.4,98.5 -173.4,82S-94.6,43.4 -98.8,12.1S-136.1,-21.9 -190.1,-34.8S-297.1,-65.6 -350.2,-83.4"/>
<path class="link" d="M-203.7,296.8C-186.5,236.4 -169.2,176.1 -137.8,130.3S-73.6,71.9 -84.1,13.1S-123.7,-61.2 -174,-84.5S-275.5,-129.7 -326.6,-151.5"/>
<path class="link" d="M-183.5,309.7C-172.2,245.5 -160.9,181.4 -132.6,133.6S-70.5,73.9 -80.8,10.9S-121.3,-65.4 -168.1,-95.2S-259.2,-159.4 -303.4,-193.7"/>
<path class="link" d="M-258.8,250.3C-225.2,203.6 -191.7,157.1 -151.8,118.5S-81.8,64.9 -87.4,8S-122.6,-63.3 -171.2,-90S-267.8,-144.8 -315.7,-173"/>
<path class="link" d="M-223.1,282.5C-200.1,226.3 -177.1,170.3 -142.7,126.7S-76.5,69.8 -86.2,13.7S-124.6,-58.9 -176.4,-78.9S-282.1,-114.1 -336,-129.4"/>
<path class="link" d="M-258.8,250.3C-225.2,203.6 -191.7,157.1 -151.8,118.5S-81.8,64.9 -80.4,-2.1S-103.1,-91.6 -145.5,-127.5S-231.4,-197.9 -274.9,-232.4"/>
<path class="link" d="M-274.9,232.4C-236.6,191.1 -198.2,149.8 -155.9,114S-84.2,62.3 -80.4,-4.7S-101.5,-93.4 -141.4,-132S-220,-210.4 -258.8,-250.3"/>
<path class="link" d="M-355,59.9C-293,69.6 -231,79.3 -176.2,70.1S-96.2,36.4 -74.9,-27S-70.3,-118.8 -98.6,-166.5S-155.2,-262 -183.5,-309.7"/>
<path class="link" d="M-336,129.4C-279.6,118.5 -223.2,107.7 -171.4,87.8S-93.4,46.8 -73.5,-21.8S-70.3,-118.8 -98.6,-166.5S-155.2,-262 -183.5,-309.7"/>
<path class="link" d="M-183.5,309.7C-172.2,245.5 -160.9,181.4 -132.6,133.6S-70.5,73.9 -45.8,-14.5S-27.5,-135.3 -38.5,-189.7S-60.7,-298.4 -71.7,-352.8"/>
<path class="link" d="M-203.7,296.8C-186.5,236.4 -169.2,176.1 -137.8,130.3S-73.6,71.9 -47.3,-15.5S-27.5,-135.3 -38.5,-189.7S-60.7,-298.4 -71.7,-352.8"/>
<path class="link" d="M-358.2,36C-295.2,52.8 -232.3,69.6 -177,64.1S-96.7,32.8 -58.9,-35.1S-27.5,-135.3 -38.5,-189.7S-60.7,-298.4 -71.7,-352.8"/>
<path class="link" d="M-355,59.9C-293,69.6 -231,79.3 -176.2,70.1S-96.2,36.4 -66.1,-31.1S-48.5,-129.2 -66.7,-181.6S-101.4,-287.1 -118.1,-340.1"/>
<path class="link" d="M-241.5,267C-213,215.4 -184.6,163.9 -147.4,122.8S-79.2,67.4 -43.1,-18.7S-9.2,-137.7 -12.9,-192.6S-20.3,-303.8 -24,-359.2"/>
<path class="link" d="M-274.9,232.4C-236.6,191.1 -198.2,149.8 -155.9,114S-84.2,62.3 -74.7,-10.1S-85.5,-108.3 -119.9,-151.8S-188.7,-238.9 -223.1,-282.5"/>
<path class="link" d="M-350.2,-83.4C-297.1,-65.6 -244.1,-47.7 -190.1,-34.8S-103,-19.3 -62,-61.1S-27.5,-135.3 -38.5,-189.7S-60.7,-298.4 -71.7,-352.8"/>
<path class="link" d="M-355,-59.9C-300.5,-49 -246.1,-38 -191.3,-28.8S-103.7,-15.8 -62.4,-59.4S-27.5,-135.3 -38.5,-189.7S-60.7,-298.4 -71.7,-352.8"/>
<path class="link" d="M-358.2,-36C-302.7,-32.2 -247.4,-28.3 -192.1,-22.8S-104.2,-12.2 -70.1,-55.4S-48.5,-129.2 -66.7,-181.6S-101.4,-287.1 -118.1,-340.1"/>
<path class="link" d="M326.6,151.5C278.7,121.8 230.7,92.1 180.4,68.7S97.7,37.8 9.4,-15.7S-103.1,-91.6 -145.5,-127.5S-231.4,-197.9 -274.9,-232.4"/>
<path class="link" d="M303.4,193.7C262.4,151.5 221.3,109.3 174.5,79.4S94.2,44.2 8.8,-13.8S-101.5,-93.4 -141.4,-132S-220,-210.4 -258.8,-250.3"/>
<path class="link" d="M289.8,213.6C252.8,165.5 215.8,117.4 171.1,84.5S92.2,47.1 0.6,-2.5S-121.3,-65.4 -168.1,-95.2S-259.2,-159.4 -303.4,-193.7"/>
<path class="link" d="M336,129.4C285.3,106.2 234.6,83 182.8,63.1S99.1,34.5 2.3,-5.6S-123.7,-61.2 -174,-84.5S-275.5,-129.7 -326.6,-151.5"/>
<path class="link" d="M350.2,83.4C295.3,73.9 240.4,64.3 186.4,51.4S101.2,27.6 2.7,-7.4S-124.6,-58.9 -176.4,-78.9S-282.1,-114.1 -336,-129.4"/>
<path class="link" d="M183.5,309.7C153.7,262.8 123.9,216 95.6,168.2S52,91.2 -0.8,0.4S-70.3,-118.8 -98.6,-166.5S-155.2,-262 -183.5,-309.7"/>
<path class="link" d="M203.7,296.8C168,253.7 132.2,210.7 100.8,164.9S55.1,89.2 -18.9,20.1S-122.6,-63.3 -171.2,-90S-267.8,-144.8 -315.7,-173"/>
<path class="link" d="M223.1,282.5C181.6,243.6 140.1,204.9 105.7,161.3S58,87.1 -10.5,9S-103.1,-91.6 -145.5,-127.5S-231.4,-197.9 -274.9,-232.4"/>
<path class="link" d="M-118.1,340.1C-89.9,290 -61.8,240 -43.6,187.5S-24.5,101.5 -22.8,-0.7S-27.5,-135.3 -38.5,-189.7S-60.7,-298.4 -71.7,-352.8"/>
<path class="link" d="M-140.5,331.4C-105.8,283.9 -71,236.4 -49.3,185.3S-27.9,100.2 -32,0.8S-48.5,-129.2 -66.7,-181.6S-101.4,-287.1 -118.1,-340.1"/>
<path class="link" d="M118.1,340.1C107.6,284.2 97.2,228.4 79,175.9S42.2,95.7 10.6,-3.6S-27.5,-135.3 -38.5,-189.7S-60.7,-298.4 -71.7,-352.8"/>
<path class="link" d="M140.5,331.4C123.5,278.1 106.4,224.8 84.7,173.7S45.6,94.4 4.8,-2.1S-48.5,-129.2 -66.7,-181.6S-101.4,-287.1 -118.1,-340.1"/>
<path class="link" d="M24,359.2C10.1,303.4 -3.8,247.8 -7.5,192.4S-3.2,104.4 -5.1,-0.2S-9.2,-137.7 -12.9,-192.6S-20.3,-303.8 -24,-359.2"/>
<path class="link" d="M162.4,-321.3C147.2,-265.1 132.1,-209.1 107.1,-159.6S57.3,-87.1 -9.6,-8.7S-108.3,83.2 -142.7,126.7S-200.1,226.3 -223.1,282.5"/>
<path class="link" d="M118.1,-340.1C116,-278.4 114,-216.8 95.8,-164.3S50.6,-89.9 -14.3,-11.3S-110.1,81.6 -147.4,122.8S-213,215.4 -241.5,267"/>
<path class="link" d="M71.7,-352.8C83.4,-287.3 95.1,-222 84,-167.6S43.7,-91.8 -19.1,-13.5S-111.9,79.9 -151.8,118.5S-225.2,203.6 -258.8,250.3"/>
<path class="link" d="M315.7,-173C255.2,-160.7 194.7,-148.5 146,-121.9S80.3,-64.9 4.9,4.5S-104.3,85.9 -132.6,133.6S-172.2,245.5 -183.5,309.7"/>
<path class="link" d="M343.8,-106.7C275,-114 206.2,-121.5 153.2,-105S84.5,-54.9 5.5,8.5S-106.4,84.6 -137.8,130.3S-186.5,236.4 -203.7,296.8"/>
<path class="link" d="M303.4,-193.7C246.6,-175.3 189.7,-157 142.9,-127.1S78.4,-68 -8.9,-15.8S-121.5,60.9 -176.2,70.1S-293,69.6 -355,59.9"/>
<path class="link" d="M326.6,-151.5C262.9,-145.6 199.1,-139.8 148.8,-116.4S81.9,-61.6 -7.4,-14.4S-121.8,58.5 -177,64.1S-295.2,52.8 -358.2,36"/>
<path class="link" d="M359.8,12C302,23.6 244.3,35.1 188.8,33.3S102.7,16.9 -0.2,-1.2S-136.1,-21.9 -190.1,-34.8S-297.1,-65.6 -350.2,-83.4"/>
<path class="link" d="M358.2,36C300.9,40.5 243.7,44.9 188.4,39.4S102.4,20.5 -0.9,4.2S-136.9,-17.2 -192.1,-22.8S-302.7,-32.2 -358.2,-36"/>
<path class="link" d="M355,59.9C298.7,57.3 242.4,54.6 187.6,45.4S101.9,24.1 -1.3,7.8S-137.1,-14.8 -192.5,-16.7S-303.8,-15.3 -359.8,-12"/>
<path class="link" d="M258.8,-250.3C215.1,-215.1 171.5,-180.1 131.6,-141.5S71.7,-76.4 -16,-46.1S-136.6,-19.6 -191.3,-28.8S-300.5,-49 -355,-59.9"/>
<path class="link" d="M203.7,-296.8C176.4,-247.9 149,-199.1 117.6,-153.3S63.5,-83.4 -13.8,-67.8S-121.3,-65.4 -168.1,-95.2S-259.2,-159.4 -303.4,-193.7"/>
<path class="link" d="M0,360C-6.8,304 -13.6,248.1 -13.6,192.6S-6.8,104.5 -50.7,29.4S-123.7,-61.2 -174,-84.5S-275.5,-129.7 -326.6,-151.5"/>
<path class="src-link" d="M-71.7,352.8C-32.4,221.4 -27.2,222.2 -24,359.2"/>
<path class="src-link" d="M-71.7,352.8C-29.2,221.4 -18.6,222.2 24,359.2"/>
<path class="src-link" d="M-71.7,352.8C-37.1,220.6 -39.8,220 -95.1,347.2"/>
<path class="src-link" d="M-71.7,352.8C-61.7,298.2 -51.8,243.7 -45.1,188.6S-35.3,77.7 -60.7,43.9S-140.2,-2 -194,-15.6S-301.4,-44.6 -355,-59.9"/>
<path class="src-link" d="M-71.7,352.8C-61.8,298.7 -51.9,244.9 -45.3,190.3S-35.6,80.6 -61.1,47.5S-140.7,2.8 -195.2,-3.5S-304.7,-10.9 -359.8,-12"/>
<path class="tgt-link" d="M48,-356.8C65.8,-285.7 83.6,-214.8 75.3,-155.4S32.6,-48 11.3,5.5S-18.4,118.6 -30,177.4S-56.7,294.4 -71.7,352.8"/>
<path class="tgt-link" d="M95.1,-347.2C99,-279 102.8,-210.9 87.3,-153S36.7,-47.2 14.9,6.2S-16,119 -28.2,177.8S-56.1,294.6 -71.7,352.8"/>
<path class="tgt-link" d="M336,-129.4C268.6,-125.6 201.2,-121.9 148.5,-97.6S57.8,-28.1 32.9,22.6S-4,129.9 -19.2,185.9S-53.1,297.3 -71.7,352.8"/>
<path class="tgt-link" d="M350.2,-83.4C278.6,-93.3 207,-103.2 152.1,-85.9S59,-24.1 34,26S-3.3,132.2 -18.7,187.7S-52.9,297.9 -71.7,352.8"/>
<path class="tgt-link" d="M-71.7,352.8C-34,221.3 -31.4,221.7 -48,356.8"/>
<path class="tgt-link" d="M-71.7,352.8C-37.1,220.6 -39.8,220 -95.1,347.2"/>
</g>
<g id="nodes">
<g id="node-adam"><text class="node" dy=".31em" transform="rotate(-86.17)translate(368)">adam</text></g>
<g id="node-amy"><text class="node src" dy=".31em" transform="rotate(-82.34)translate(368)">amy</text></g>
<g id="node-arielle"><text class="node" dy=".31em" transform="rotate(-78.51)translate(368)">arielle</text></g>
<g id="node-asa"><text class="node src" dy=".31em" transform="rotate(-74.68)translate(368)">asa</text></g>
<g id="node-caro"><text class="node" dy=".31em" transform="rotate(-70.85)translate(368)">caro</text></g>
<g id="node-daniel_s"><text class="node" dy=".31em" transform="rotate(-67.02)translate(368)">daniel_s</text></g>
<g id="node-danny"><text class="node" dy=".31em" transform="rotate(-63.19)translate(368)">danny</text></g>
<g id="node-darcy"><text class="node" dy=".31em" transform="rotate(-59.36)translate(368)">darcy</text></g>
<g id="node-dave"><text class="node" dy=".31em" transform="rotate(-55.53)translate(368)">dave</text></g>
<g id="node-david_s"><text class="node" dy=".31em" transform="rotate(-51.7)translate(368)">david_s</text></g>
<g id="node-hannah"><text class="node" dy=".31em" transform="rotate(-47.87)translate(368)">hannah</text></g>
<g id="node-julia"><text class="node" dy=".31em" transform="rotate(-44.04)translate(368)">julia</text></g>
<g id="node-juliet"><text class="node" dy=".31em" transform="rotate(-40.21)translate(368)">juliet</text></g>
<g id="node-karinna"><text class="node" dy=".31em" transform="rotate(-36.38)translate(368)">karinna</text></g>
<g id="node-kelly"><text class="node" dy=".31em" transform="rotate(-32.55)translate(368)">kelly</text></g>
<g id="node-mick"><text class="node" dy=".31em" transform="rotate(-28.72)translate(368)">mick</text></g>
<g id="node-octa"><text class="node" dy=".31em" transform="rotate(-24.89)translate(368)">octa</text></g>
<g id="node-paul"><text class="node src" dy=".31em" transform="rotate(-21.06)translate(368)">paul</text></g>
<g id="node-ross"><text class="node" dy=".31em" transform="rotate(-17.23)translate(368)">ross</text></g>
<g id="node-todd"><text class="node src" dy=".31em" transform="rotate(-13.4)translate(368)">todd</text></g>
<g id="node-adnan"><text class="node" dy=".31em" transform="rotate(-5.74)translate(368)">adnan</text></g>
<g id="node-boris"><text class="node" dy=".31em" transform="rotate(-1.91)translate(368)">boris</text></g>
<g id="node-colin"><text class="node" dy=".31em" transform="rotate(1.91)translate(368)">colin</text></g>
<g id="node-dan"><text class="node" dy=".31em" transform="rotate(5.74)translate(368)">dan</text></g>
<g id="node-emily"><text class="node" dy=".31em" transform="rotate(9.57)translate(368)">emily</text></g>
<g id="node-eric"><text class="node" dy=".31em" transform="rotate(13.4)translate(368)">eric</text></g>
<g id="node-jose"><text class="node" dy=".31em" transform="rotate(17.23)translate(368)">jose</text></g>
<g id="node-melissa"><text class="node" dy=".31em" transform="rotate(21.06)translate(368)">melissa</text></g>
<g id="node-mike"><text class="node" dy=".31em" transform="rotate(24.89)translate(368)">mike</text></g>
<g id="node-niel"><text class="node" dy=".31em" transform="rotate(28.72)translate(368)">niel</text></g>
<g id="node-pioul"><text class="node" dy=".31em" transform="rotate(32.55)translate(368)">pioul</text></g>
<g id="node-steven"><text class="node" dy=".31em" transform="rotate(36.38)translate(368)">steven</text></g>
<g id="node-sunil"><text class="node" dy=".31em" transform="rotate(40.21)translate(368)">sunil</text></g>
<g id="node-alex"><text class="node" dy=".31em" transform="rotate(47.87)translate(368)">alex</text></g>
<g id="node-daveo"><text class="node" dy=".31em" transform="rotate(51.7)translate(368)">daveo</text></g>
<g id="node-hamish"><text class="node" dy=".31em" transform="rotate(55.53)translate(368)">hamish</text></g>
<g id="node-katie_w"><text class="node" dy=".31em" transform="rotate(59.36)translate(368)">katie_w</text></g>
<g id="node-maxime"><text class="node" dy=".31em" transform="rotate(63.19)translate(368)">maxime</text></g>
<g id="node-steve"><text class="node" dy=".31em" transform="rotate(67.02)translate(368)">steve</text></g>
<g id="node-tigran"><text class="node" dy=".31em" transform="rotate(70.85)translate(368)">tigran</text></g>
<g id="node-tomd"><text class="node" dy=".31em" transform="rotate(74.68)translate(368)">tomd</text></g>
<g id="node-alfred"><text class="node" dy=".31em" transform="rotate(82.34)translate(368)">alfred</text></g>
<g id="node-ash"><text class="node tgt" dy=".31em" transform="rotate(86.17)translate(368)">ash</text></g>
<g id="node-bonnie"><text class="node e" dy=".31em" transform="rotate(90)translate(368)rotate(180)">bonnie</text></g>
<g id="node-brian_p"><text class="node e tgt" dy=".31em" transform="rotate(93.83)translate(368)rotate(180)">brian_p</text></g>
<g id="node-courtney"><text class="node e src" dy=".31em" transform="rotate(97.66)translate(368)rotate(180)">courtney</text></g>
<g id="node-hailley"><text class="node e hov" dy=".31em" transform="rotate(101.49)translate(368)rotate(180)">hailley</text></g>
<g id="node-kevan"><text class="node e tgt" dy=".31em" transform="rotate(105.32)translate(368)rotate(180)">kevan</text></g>
<g id="node-leo"><text class="node e" dy=".31em" transform="rotate(109.15)translate(368)rotate(180)">leo</text></g>
<g id="node-nicole"><text class="node e" dy=".31em" transform="rotate(112.98)translate(368)rotate(180)">nicole</text></g>
<g id="node-andy"><text class="node e" dy=".31em" transform="rotate(120.64)translate(368)rotate(180)">andy</text></g>
<g id="node-daniel"><text class="node e" dy=".31em" transform="rotate(124.47)translate(368)rotate(180)">daniel</text></g>
<g id="node-federico"><text class="node e" dy=".31em" transform="rotate(128.3)translate(368)rotate(180)">federico</text></g>
<g id="node-humber"><text class="node e" dy=".31em" transform="rotate(132.13)translate(368)rotate(180)">humber</text></g>
<g id="node-ivana"><text class="node e" dy=".31em" transform="rotate(135.96)translate(368)rotate(180)">ivana</text></g>
<g id="node-james"><text class="node e" dy=".31em" transform="rotate(139.79)translate(368)rotate(180)">james</text></g>
<g id="node-joe"><text class="node e" dy=".31em" transform="rotate(143.62)translate(368)rotate(180)">joe</text></g>
<g id="node-joel"><text class="node e" dy=".31em" transform="rotate(147.45)translate(368)rotate(180)">joel</text></g>
<g id="node-jordan"><text class="node e" dy=".31em" transform="rotate(151.28)translate(368)rotate(180)">jordan</text></g>
<g id="node-marcus"><text class="node e" dy=".31em" transform="rotate(155.11)translate(368)rotate(180)">marcus</text></g>
<g id="node-patrik"><text class="node e" dy=".31em" transform="rotate(158.94)translate(368)rotate(180)">patrik</text></g>
<g id="node-phil"><text class="node e" dy=".31em" transform="rotate(162.77)translate(368)rotate(180)">phil</text></g>
<g id="node-roy"><text class="node e" dy=".31em" transform="rotate(166.6)translate(368)rotate(180)">roy</text></g>
<g id="node-tom"><text class="node e" dy=".31em" transform="rotate(170.43)translate(368)rotate(180)">tom</text></g>
<g id="node-tyler"><text class="node e" dy=".31em" transform="rotate(174.26)translate(368)rotate(180)">tyler</text></g>
<g id="node-caryn"><text class="node e tgt" dy=".31em" transform="rotate(181.91)translate(368)rotate(180)">caryn</text></g>
<g id="node-mike_e"><text class="node e" dy=".31em" transform="rotate(185.74)translate(368)rotate(180)">mike_e</text></g>
<g id="node-spencer"><text class="node e tgt" dy=".31em" transform="rotate(189.57)translate(368)rotate(180)">spencer</text></g>
<g id="node-stephanie"><text class="node e" dy=".31em" transform="rotate(193.4)translate(368)rotate(180)">stephanie</text></g>
<g id="node-davidgasquez"><text class="node e" dy=".31em" transform="rotate(201.06)translate(368)rotate(180)">davidgasquez</text></g>
<g id="node-julian"><text class="node e" dy=".31em" transform="rotate(204.89)translate(368)rotate(180)">julian</text></g>
<g id="node-matt"><text class="node e" dy=".31em" transform="rotate(208.72)translate(368)rotate(180)">matt</text></g>
<g id="node-michael"><text class="node e" dy=".31em" transform="rotate(212.55)translate(368)rotate(180)">michael</text></g>
<g id="node-deborah"><text class="node e" dy=".31em" transform="rotate(220.21)translate(368)rotate(180)">deborah</text></g>
<g id="node-jenny"><text class="node e" dy=".31em" transform="rotate(224.04)translate(368)rotate(180)">jenny</text></g>
<g id="node-harrison"><text class="node e" dy=".31em" transform="rotate(231.7)translate(368)rotate(180)">harrison</text></g>
<g id="node-lorenz"><text class="node e" dy=".31em" transform="rotate(239.36)translate(368)rotate(180)">lorenz</text></g>
<g id="node-mark"><text class="node e" dy=".31em" transform="rotate(247.02)translate(368)rotate(180)">mark</text></g>
<g id="node-rodolphe"><text class="node e" dy=".31em" transform="rotate(250.85)translate(368)rotate(180)">rodolphe</text></g>
<g id="node-super"><text class="node e" dy=".31em" transform="rotate(258.51)translate(368)rotate(180)">super</text></g>
<g id="node-tim"><text class="node e" dy=".31em" transform="rotate(266.17)translate(368)rotate(180)">tim</text></g>
</g>
</g>
</svg>
